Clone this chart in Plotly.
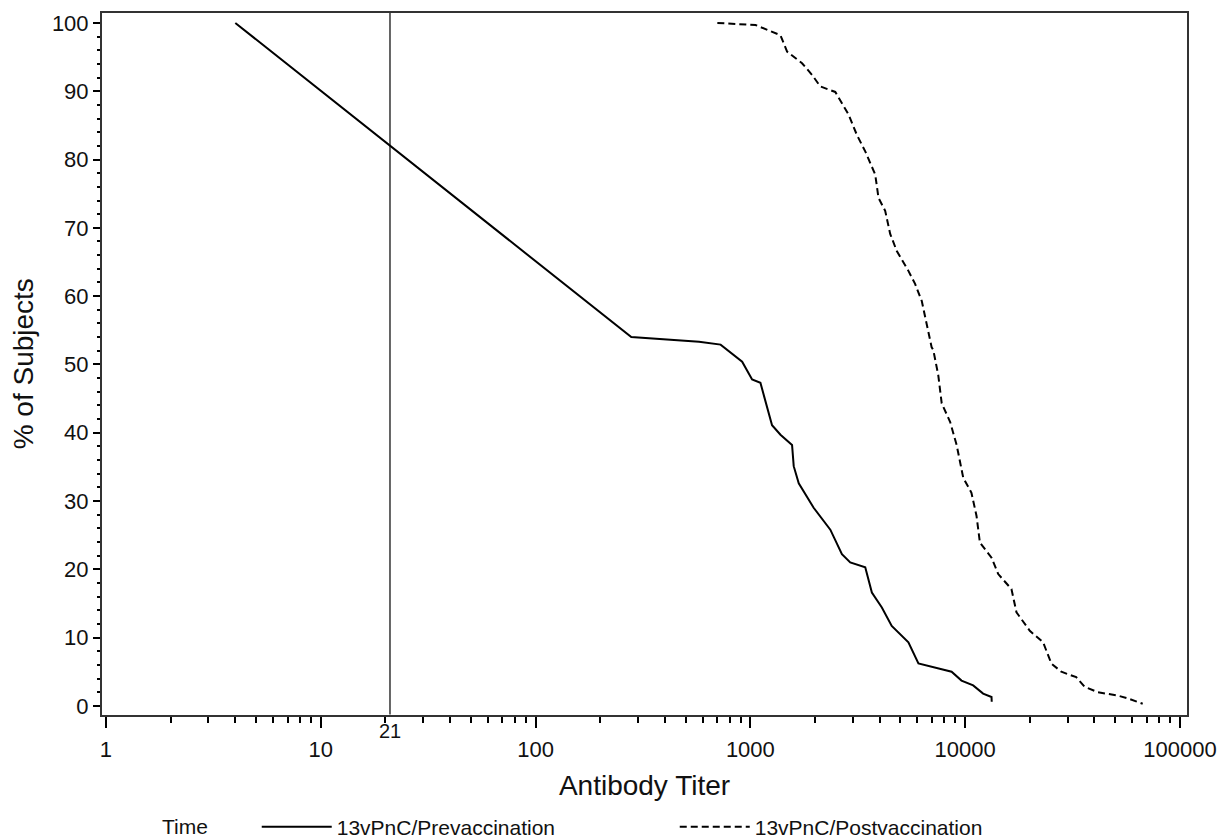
import math
import plotly.graph_objects as go

# Reverse cumulative distribution curves
pre_titer = [4, 279, 577, 727, 916, 1019, 1114, 1262, 1381, 1564, 1592, 1680, 1971, 2357,
             2669, 2918, 3427, 3680, 4095, 4552, 5444, 6060, 8650, 9620, 10900, 12130, 13270, 13300]
pre_pct = [100, 54.0, 53.3, 52.9, 50.4, 47.8, 47.3, 41.1, 39.7, 38.2, 35.1, 32.6, 29.0, 25.8,
           22.2, 21.0, 20.3, 16.6, 14.4, 11.7, 9.3, 6.2, 5.0, 3.7, 3.0, 1.8, 1.3, 0.6]

post_titer = [702, 1057, 1381, 1483, 1741, 1937, 2118, 2486, 2866, 3134, 3427, 3814, 3950, 4244,
              4478, 4807, 5444, 5848, 6280, 6985, 7110, 7500, 7780, 8510, 9130, 9460, 9800, 10700,
              11300, 11720, 13270, 14260, 16430, 17340, 20000, 23070, 25200, 28040, 32900, 35980,
              41500, 51400, 57200, 67100]
post_pct = [100, 99.7, 98.2, 95.8, 94.1, 92.4, 90.7, 89.9, 86.6, 83.6, 81.2, 77.8, 74.4, 72.5,
            69.1, 66.6, 63.7, 61.8, 59.3, 52.5, 52.1, 48.4, 44.3, 41.6, 38.2, 36.0, 33.4, 31.2,
            27.8, 23.9, 21.7, 19.3, 17.1, 13.7, 11.0, 9.3, 6.2, 5.0, 4.2, 2.8, 2.0, 1.5, 1.1, 0.3]

series_names = ['13vPnC/Prevaccination', '13vPnC/Postvaccination']
x_ticks = [1, 10, 100, 1000, 10000, 100000]
x_minor = [m * 10 ** d for d in range(5) for m in range(2, 10)]
y_ticks = list(range(0, 101, 10))
threshold = 21

font = 'Arial, Liberation Sans, sans-serif'
ink = '#111'

fig = go.Figure()
fig.add_trace(go.Scatter(x=pre_titer, y=pre_pct, mode='lines', name=series_names[0],
                         line=dict(color='black', width=2)))
fig.add_trace(go.Scatter(x=post_titer, y=post_pct, mode='lines', name=series_names[1],
                         line=dict(color='black', width=2, dash='7px,4px')))

# vertical reference line at the LLOQ (shapes take data values on log axes, annotations take log10)
fig.add_shape(type='line', xref='x', yref='paper', x0=threshold, x1=threshold,
              y0=0, y1=1, line=dict(color='black', width=1.2))
fig.add_annotation(x=math.log10(threshold), xref='x', y=0, yref='paper', yanchor='middle',
                   text=str(threshold), showarrow=False, yshift=-16,
                   font=dict(family=font, size=20, color=ink))

fig.update_layout(
    width=1228, height=838,
    margin=dict(l=102, r=40, t=11, b=121),
    paper_bgcolor='white', plot_bgcolor='white',
    font=dict(family=font, size=22, color=ink),
    xaxis=dict(type='log', range=[-0.0186, 5.033], tickvals=x_ticks, ticktext=[str(v) for v in x_ticks],
               ticks='outside', ticklen=11, tickwidth=1.5, tickcolor='black', ticklabelstandoff=3,
               minor=dict(tickmode='array', tickvals=x_minor, ticks='outside', ticklen=6,
                          tickwidth=1.5, tickcolor='black', showgrid=False),
               showline=True, linecolor='#333', linewidth=2, mirror=True, showgrid=False, zeroline=False,
               title=dict(text='Antibody Titer', font=dict(size=28), standoff=14),
               tickfont=dict(size=22)),
    yaxis=dict(range=[-1.27, 101.46], tickvals=y_ticks,
               ticks='outside', ticklen=7, tickwidth=1.5, tickcolor='black',
               minor=dict(dtick=2, ticks='outside', ticklen=3, tickwidth=1.5, tickcolor='black', showgrid=False),
               showline=True, linecolor='#333', linewidth=2, mirror=True, showgrid=False, zeroline=False,
               title=dict(text='% of Subjects', font=dict(size=28), standoff=10),
               tickfont=dict(size=22)),
    legend=dict(orientation='h', xref='container', yref='container', x=0.1303, xanchor='left',
                y=0.0131, yanchor='middle',
                title=dict(text='Time' + '\u00a0' * 7, font=dict(size=21)),
                itemwidth=70, entrywidth=333, font=dict(size=21), bgcolor='rgba(0,0,0,0)'),
)

# drop the browser's default 8px body margin so the figure sits at the page corner
fig.write_html('out.html', config={'displayModeBar': False},
               post_script="document.body.style.margin='0';")
